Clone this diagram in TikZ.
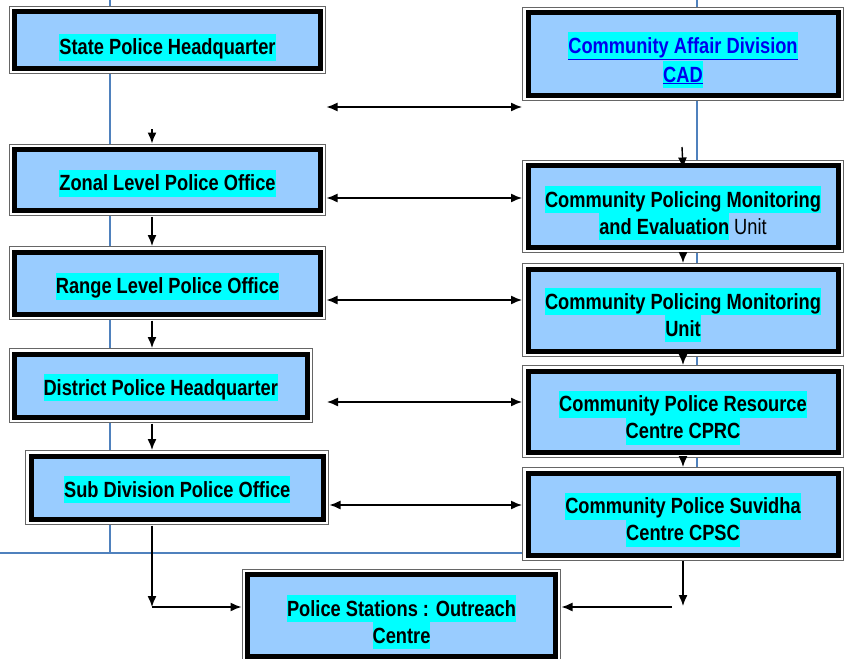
\documentclass[tikz,border=0pt]{standalone}
\usepackage{fontspec}
\setmainfont{Liberation Sans}
\newfontfamily\boxfont[FakeStretch=0.83]{Liberation Sans}
\usepackage{xcolor}
\usepackage{tikz}
\usetikzlibrary{arrows.meta}
\usetikzlibrary{positioning}

\definecolor{boxblue}{HTML}{99CCFF}
\definecolor{hlcyan}{HTML}{00FFFF}
\definecolor{gridblue}{HTML}{4F81BD}
\definecolor{linkblue}{HTML}{0000EE}

\setlength{\fboxsep}{0pt}
\newcommand{\hl}[1]{\colorbox{hlcyan}{\rule[-6pt]{0pt}{27pt}#1}}
\newcommand{\lnk}[1]{{\color{linkblue}\underline{#1}}}

\begin{document}
\begin{tikzpicture}[x=1pt, y=-1pt, >={Latex[length=11pt,width=9pt]}]
  \tikzstyle{box}=[draw=black, line width=5pt, fill=boxblue, outer sep=6pt,
                   preaction={draw=black!60, line width=11.6pt},
                   preaction={draw=white, line width=9.4pt}]
  \tikzstyle{lbox}=[box, minimum width=306pt, minimum height=62pt]
  \tikzstyle{rbox}=[box, minimum width=310pt, minimum height=82pt]
  \tikzstyle{lbl}=[font=\boxfont\bfseries\fontsize{22}{27}\selectfont, align=center, inner sep=0pt]
  \tikzstyle{arr}=[->, line width=1.4pt]
  \tikzstyle{biarr}=[<->, line width=1.4pt]
  \useasboundingbox (0,0) rectangle (845,658);

  % blue layout lines, behind everything
  \draw[gridblue, line width=2pt] (110,0) -- (110,553);
  \draw[gridblue, line width=2pt] (0,553) -- (600,553);
  \draw[gridblue, line width=2pt] (697,0) -- (697,480);

  % police side
  \node[lbox, minimum height=56.5pt] (state) at (167.5,40.25) {};
  \node[lbox, minimum height=61pt] (zonal) at (167.5,180) {};
  \node[lbox, minimum height=62.5pt] (range) at (167.5,283.25) {};
  \node[lbox, minimum width=292.5pt, minimum height=63.5pt] (district) at (160.75,385.75) {};
  \node[lbox, minimum width=292.5pt, minimum height=63.5pt] (sub) at (177.25,487.75) {};
  \node[rbox, minimum width=308pt] (ps) at (401.5,615.5) {};

  % community side
  \node[rbox, minimum height=82.5pt] (cad) at (683,54.25) {};
  \node[rbox] (cpmeu) at (683,206.5) {};
  \node[rbox, minimum height=82.5pt] (cpmu) at (683,310.25) {};
  \node[rbox, minimum height=81.5pt] (cprc) at (683,411.75) {};
  \node[rbox] (cpsc) at (683,514) {};

  \node[lbl] (stateT) at ([yshift=-7pt]state.center) {\hl{State Police Headquarter}};
  \node[lbl] (zonalT) at ([yshift=-3pt]zonal.center) {\hl{Zonal Level Police Office}};
  \node[lbl] (rangeT) at ([yshift=-3pt]range.center) {\hl{Range Level Police Office}};
  \node[lbl] (districtT) at ([yshift=-2pt]district.center) {\hl{District Police Headquarter}};
  \node[lbl] (subT) at ([yshift=-2pt]sub.center) {\hl{Sub Division Police Office}};
  \node[lbl] (psT) at ([yshift=-6.5pt]ps.center) {\hl{Police Stations : Outreach}\\\hl{Centre}};
  \node[lbl] (cadT) at ([yshift=-6pt]cad.center) {\hl{\lnk{Community Affair Division}}\\\hl{\lnk{CAD}}};
  \node[lbl] (cpmeuT) at ([yshift=-6.5pt]cpmeu.center) {\hl{Community Policing Monitoring}\\\hl{and Evaluation} {\mdseries Unit}};
  \node[lbl] (cpmuT) at ([yshift=-5pt]cpmu.center) {\hl{Community Policing Monitoring}\\\hl{Unit}};
  \node[lbl] (cprcT) at ([yshift=-6pt]cprc.center) {\hl{Community Police Resource}\\\hl{Centre CPRC}};
  \node[lbl] (cpscT) at ([yshift=-5.5pt]cpsc.center) {\hl{Community Police Suvidha}\\\hl{Centre CPSC}};

  % links across
  \coordinate (dl) at (327,402);
  \draw[biarr] (state.east |- 0,107) -- (cad.west |- 0,107);
  \draw[biarr] (zonal.east |- 0,198) -- (cpmeu.west |- 0,198);
  \draw[biarr] (range.east |- 0,300) -- (cpmu.west |- 0,300);
  \draw[biarr] (dl) -- (cprc.west |- dl);
  \draw[biarr] (sub.east |- 0,505) -- (cpsc.west |- 0,505);

  % down the police side
  \coordinate (zin) at (152,129);
  \coordinate (psl) at (152,607);
  \draw[arr] (zin) -- (zin |- zonal.north);
  \draw[arr] (zonal.south -| zin) -- (range.north -| zin);
  \draw[arr] (range.south -| zin) -- (district.north -| zin);
  \draw[arr] (district.south -| zin) -- (sub.north -| zin);
  \draw[arr] (sub.south -| zin) -- (psl);
  \draw[arr] (psl) -- (ps.west |- psl);

  % down the community side
  \coordinate (cin) at (682,147);
  \coordinate (psr) at (683,606);
  \coordinate (psrr) at (672,607);
  \draw[arr] (cin) -- ([yshift=-9pt]cpmeu.north);
  \draw[arr] (cpmeu.south) -- (cpmu.north);
  \draw[arr] (cpmu.south) -- (cprc.north);
  \draw[arr] (cprc.south) -- (cpsc.north);
  \draw[arr] (cpsc.south) -- (psr);
  \draw[arr] (psrr) -- (ps.east |- psrr);
\end{tikzpicture}
\end{document}
